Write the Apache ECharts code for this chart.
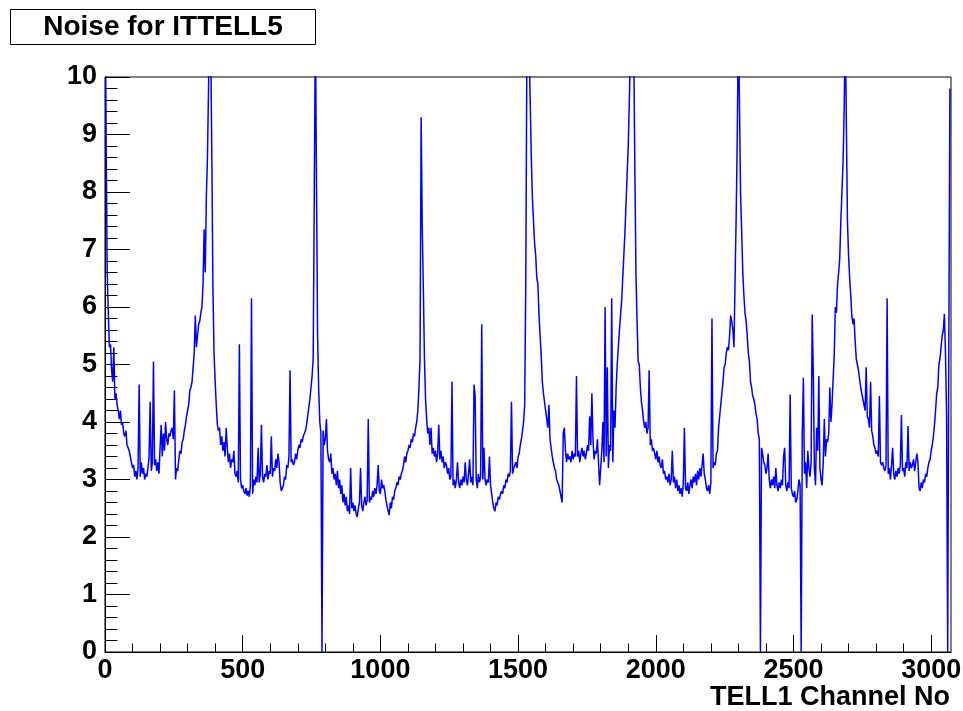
<!DOCTYPE html>
<html><head><meta charset="utf-8">
<script src="https://cdn.jsdelivr.net/npm/echarts@6/dist/echarts.min.js"></script>
<style>html,body{margin:0;padding:0;background:#fff}#c{width:963px;height:711px}</style>
</head><body><div id="c"></div>
<script>
const titleText = 'Noise for ITTELL5';
const xAxisTitle = 'TELL1 Channel No';
const CHANNEL_STEP = 4;          // one value per 4 channels
const X_MAX = 3072;
const xTickLabels = [0, 500, 1000, 1500, 2000, 2500, 3000];
const yTickLabels = [0, 1, 2, 3, 4, 5, 6, 7, 8, 9, 10];

// noise per channel block (384 channels each, sampled every 4 channels)
const seg0 = [
 12, 9.0, 6.6, 5.9, 5.3, 5.35, 4.9, 4.7, 5.3, 4.4, 4.5, 4.3,
 4.2, 4.05, 4.2, 3.95, 4.0, 3.8, 3.75, 3.85, 3.6, 3.55, 3.5, 3.4,
 3.3, 3.2, 3.25, 3.05, 3.15, 3.0, 3.2, 4.65, 3.05, 3.3, 3.1, 3.2,
 3.0, 3.1, 3.05, 3.2, 3.4, 4.35, 3.15, 3.3, 5.05, 3.25, 3.35, 3.15,
 3.3, 3.1, 3.55, 3.95, 3.4, 3.8, 3.5, 4.0, 3.7, 3.6, 3.8, 3.75,
 3.85, 3.9, 3.7, 4.55, 3.0, 3.2, 3.15, 3.35, 3.5, 3.45, 3.65, 3.7,
 3.85, 3.95, 4.1, 4.2, 4.3, 4.55, 4.6, 4.7, 4.95, 5.2, 5.85, 5.3,
 5.5, 5.7, 5.75, 5.9, 6.0, 6.4, 7.35, 6.6, 7.9, 8.6, 9.8, 11.5
];
const seg1 = [
 10.5, 8.6, 6.3, 5.2, 4.7, 4.3, 3.95, 3.85, 3.9, 3.6, 3.75, 3.5,
 3.65, 3.4, 3.9, 3.55, 3.3, 3.45, 3.2, 3.35, 3.3, 3.5, 3.1, 3.05,
 3.15, 2.95, 5.35, 3.0, 2.85, 2.9, 2.8, 2.75, 2.85, 2.72, 2.8, 2.7,
 2.9, 6.15, 2.75, 3.0, 2.9, 3.05, 2.95, 3.55, 2.95, 3.1, 3.95, 3.05,
 2.95, 3.1, 3.05, 3.25, 3.0, 3.15, 3.1, 3.75, 3.05, 3.2, 3.15, 3.35,
 3.2, 3.45, 3.3, 2.95, 2.8, 2.85, 2.9, 3.05, 3.0, 3.25, 3.2, 3.4,
 4.9, 3.3, 3.35, 3.25, 3.3, 3.45, 3.35, 3.5, 3.6, 3.55, 3.7, 3.65,
 3.75, 3.8, 3.85, 3.95, 4.1, 4.25, 4.4, 4.6, 4.8, 5.1, 8.0, 11
];
const seg2 = [
 8.1, 5.5, 4.55, 4.0, 3.8, 0, 3.85, 3.6, 3.7, 4.05, 3.5, 3.35,
 3.3, 3.45, 3.1, 3.2, 3.0, 3.1, 2.9, 3.15, 2.85, 3.0, 2.75, 2.9,
 2.6, 2.75, 2.55, 2.7, 2.45, 2.55, 2.4, 3.2, 2.5, 2.6, 2.45, 2.55,
 2.4, 2.35, 2.5, 2.6, 3.2, 2.55, 2.45, 2.6, 2.7, 2.55, 2.65, 4.05,
 2.6, 2.7, 2.65, 2.8, 2.7, 2.85, 2.75, 2.9, 3.25, 2.8, 2.75, 3.0,
 2.85, 2.9, 2.8, 2.65, 2.55, 2.45, 2.38, 2.6, 2.5, 2.7, 2.65, 2.8,
 2.85, 2.95, 2.9, 3.05, 3.0, 3.1, 3.15, 3.25, 3.4, 3.3, 3.45, 3.5,
 3.6, 3.55, 3.7, 3.65, 3.8, 3.75, 3.9, 4.0, 4.2, 4.6, 5.1, 9.3
];
const seg3 = [
 7.4, 6.3, 5.1, 4.4, 4.05, 3.8, 3.9, 3.6, 3.9, 3.45, 3.55, 3.4,
 3.5, 3.3, 3.45, 3.95, 3.35, 3.5, 3.3, 3.4, 3.2, 3.3, 3.25, 3.1,
 3.2, 3.0, 3.05, 4.7, 2.9, 3.0, 2.85, 3.0, 3.3, 2.95, 2.85, 3.0,
 2.9, 3.05, 2.95, 3.3, 3.0, 2.9, 3.1, 3.35, 2.95, 3.05, 2.9, 4.65,
 4.45, 3.0, 2.85, 3.1, 2.95, 3.05, 5.7, 3.0, 3.55, 3.0, 2.9, 3.0,
 2.95, 3.4, 2.9, 2.75, 2.6, 2.5, 2.45, 2.6, 2.55, 2.7, 2.65, 2.75,
 2.8, 2.75, 2.9, 2.85, 3.0, 2.95, 3.1, 3.05, 3.15, 4.35, 3.1, 3.2,
 3.25, 3.3, 3.2, 3.4, 3.45, 3.6, 3.7, 3.85, 4.0, 4.3, 6.5, 10.5
];
const seg4 = [
 11, 10.5, 9.6, 8.6, 7.9, 7.5, 7.1, 6.9, 6.5, 6.4, 5.85, 5.5,
 5.15, 4.7, 4.5, 4.35, 4.2, 4.05, 3.9, 4.3, 3.7, 3.55, 3.4, 3.3,
 3.2, 3.15, 3.0, 2.95, 2.9, 2.8, 2.7, 2.6, 3.8, 3.9, 3.5, 3.3,
 3.45, 3.35, 3.4, 3.3, 3.5, 3.35, 3.45, 3.4, 4.8, 3.4, 3.5, 3.3,
 3.45, 3.55, 3.4, 3.5, 3.35, 3.45, 3.6, 3.5, 4.1, 3.6, 4.5, 3.7,
 3.35, 3.5, 3.45, 3.7, 3.3, 2.9, 3.2, 3.5, 4.0, 3.3, 6.0, 3.4,
 4.95, 3.2, 3.6, 3.5, 6.15, 3.3, 4.2, 3.9, 4.6, 5.0, 5.3, 5.6,
 5.85, 6.1, 6.5, 6.9, 7.3, 7.8, 8.3, 8.8, 9.6, 10.5, 11, 11
];
const seg5 = [
 10.5, 8.4, 6.6, 5.75, 5.05, 5.0, 4.6, 4.35, 4.2, 4.0, 3.9, 4.0,
 3.8, 3.9, 4.9, 3.6, 3.7, 3.5, 3.55, 3.45, 3.35, 3.5, 3.3, 3.4,
 3.25, 3.2, 3.35, 3.1, 3.15, 3.0, 3.05, 2.95, 3.1, 2.9, 3.0, 3.5,
 2.95, 3.05, 2.85, 3.0, 2.8, 2.9, 2.75, 2.85, 2.7, 2.95, 3.9, 2.85,
 2.8, 2.95, 2.75, 2.9, 3.0, 2.85, 3.05, 2.95, 3.1, 2.9, 3.15, 3.0,
 3.2, 3.05, 3.25, 3.45, 3.1, 3.0, 2.85, 2.8, 2.9, 2.75, 2.95, 5.8,
 3.2, 3.3, 3.25, 3.45, 3.5, 3.9, 4.1, 4.3, 4.5, 4.7, 4.95, 5.0,
 5.2, 5.3, 5.25, 5.5, 5.85, 5.75, 5.6, 5.3, 6.5, 7.6, 9.0, 11
];
const seg6 = [
 11, 7.95, 7.3, 6.6, 6.2, 5.9, 5.75, 5.5, 5.2, 5.05, 4.7, 4.6,
 4.45, 4.4, 4.3, 4.15, 4.05, 3.8, 3.7, 0, 3.55, 3.45, 3.3, 3.25,
 3.1, 3.2, 3.45, 3.0, 2.85, 3.0, 2.9, 3.05, 2.85, 3.2, 2.9, 2.8,
 2.95, 2.85, 3.0, 2.9, 3.4, 3.55, 2.9, 2.8, 2.95, 2.85, 4.48, 2.85,
 2.75, 2.7, 2.8, 2.6, 2.65, 2.8, 3.0, 2.9, 0, 3.8, 4.77, 3.1,
 3.3, 2.85, 3.5, 3.2, 3.05, 3.3, 5.87, 4.85, 3.2, 2.9, 3.9, 3.5,
 4.8, 3.2, 3.0, 2.9, 3.3, 4.05, 3.4, 3.7, 3.65, 3.8, 4.6, 4.0,
 4.3, 4.75, 5.15, 6.0, 5.9, 6.4, 6.6, 6.85, 7.5, 8.0, 8.5, 9.4
];
const seg7 = [
 11, 9.2, 7.5, 6.9, 6.5, 6.2, 5.84, 5.7, 5.8, 5.4, 5.1, 5.0,
 4.9, 4.75, 4.6, 4.6, 4.4, 4.3, 4.2, 4.95, 4.1, 4.05, 3.9, 4.7,
 3.85, 3.75, 3.6, 3.55, 3.45, 3.5, 3.4, 4.45, 3.3, 3.25, 3.3, 3.2,
 3.15, 3.25, 6.15, 3.1, 3.2, 3.0, 3.25, 3.55, 3.1, 3.0, 3.15, 3.05,
 3.2, 3.1, 3.25, 4.12, 3.15, 3.2, 3.05, 3.3, 3.2, 3.93, 3.15, 3.3,
 3.2, 3.25, 3.35, 3.15, 3.3, 3.45, 3.3, 2.85, 2.8, 2.95, 2.85, 3.0,
 2.95, 3.1, 3.05, 3.2, 3.3, 3.35, 3.5, 3.6, 3.75, 3.95, 4.2, 4.5,
 4.6, 5.0, 5.1, 5.3, 5.5, 5.6, 5.88, 5.2, 4.1, 0, 5.2, 9.8
];

const noise = [].concat(seg0, seg1, seg2, seg3, seg4, seg5, seg6, seg7);
const seriesData = noise.map((v, i) => [i * CHANNEL_STEP, v]);
const minorX = [];
for (let v = 100; v < X_MAX; v += 100) if (v % 500 !== 0) minorX.push(v);

const FONT = 'Liberation Sans';
const chart = echarts.init(document.getElementById('c'), null, {renderer: 'canvas'});
chart.setOption({
  animation: false,
  backgroundColor: '#fff',
  grid: {left: 105, top: 77, width: 846, height: 575, containLabel: false, outerBoundsMode: 'none',
         show: true, borderColor: '#000', borderWidth: 1, backgroundColor: '#fff'},
  xAxis: [{
    type: 'value', min: 0, max: X_MAX, interval: 500,
    axisLine: {show: true, onZero: false, lineStyle: {color: '#000', width: 1}},
    axisTick: {show: true, inside: true, length: 17, lineStyle: {color: '#000'}, customValues: xTickLabels},
    axisLabel: {show: true, margin: 5, color: '#000', fontFamily: FONT, fontWeight: 'bold', fontSize: 27,
      customValues: xTickLabels, formatter: v => String(v)},
    splitLine: {show: false}
  }, {
    type: 'value', min: 0, max: X_MAX, position: 'bottom',
    axisLine: {show: false},
    axisTick: {show: true, inside: true, length: 8.5, lineStyle: {color: '#000'}, customValues: minorX},
    axisLabel: {show: false},
    splitLine: {show: false}
  }],
  yAxis: {
    type: 'value', min: 0, max: 10, interval: 1,
    axisLine: {show: true, lineStyle: {color: '#000', width: 1}},
    axisTick: {show: true, inside: true, length: 25, lineStyle: {color: '#000'}},
    minorTick: {show: true, splitNumber: 5, length: 12.5, lineStyle: {color: '#000'}},
    axisLabel: {margin: 8, color: '#000', fontFamily: FONT, fontWeight: 'bold', fontSize: 27,
      formatter: v => yTickLabels.includes(v) ? String(v) : ''},
    splitLine: {show: false}
  },
  series: [{
    type: 'line', xAxisIndex: 0, data: seriesData, showSymbol: false, symbol: 'none',
    clip: true, sampling: null,
    lineStyle: {color: '#0000ff', width: 1.5}
  }],
  graphic: [
    {type: 'rect', shape: {x: 10.5, y: 9.5, width: 305, height: 35}, style: {fill: '#fff', stroke: '#000', lineWidth: 1}, z: 10},
    {type: 'text', x: 163, y: 27.5, style: {text: titleText, fill: '#000', font: 'bold 28px "' + FONT + '"', textAlign: 'center', textVerticalAlign: 'middle'}, z: 11},
    {type: 'text', x: 950, y: 698, style: {text: xAxisTitle, fill: '#000', font: 'bold 27px "' + FONT + '"', textAlign: 'right', textVerticalAlign: 'middle'}, z: 11}
  ]
});
</script></body></html>
